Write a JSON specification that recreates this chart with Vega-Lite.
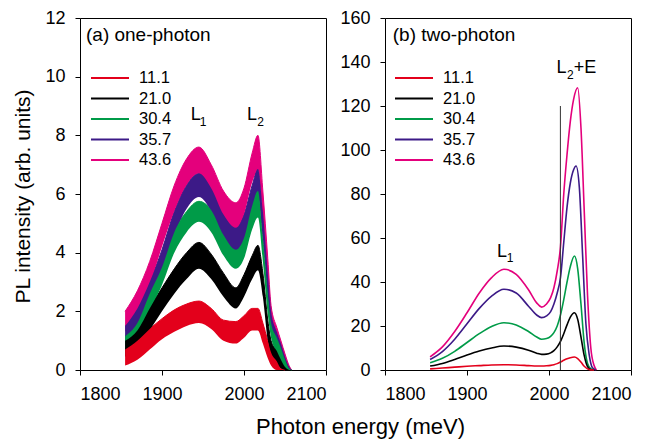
{
  "$schema": "https://vega.github.io/schema/vega-lite/v6.json",
  "background": "white",
  "padding": {"left": 11, "top": 8, "right": 5, "bottom": 5},
  "config": {
    "font": "Liberation Sans",
    "view": {"stroke": "#000", "strokeWidth": 1},
    "axis": {"grid": false, "domain": false, "tickColor": "#000", "tickSize": 5, "labelFontSize": 18, "labelColor": "#000", "titleFontWeight": "normal", "titleColor": "#000", "labelFont": "Liberation Sans", "titleFont": "Liberation Sans", "labelPadding": 10},
    "legend": {"labelFont": "Liberation Sans", "labelColor": "#000"},
    "text": {"font": "Liberation Sans", "color": "#000"}
  },
  "bounds": "flush",
  "spacing": 59,
  "resolve": {"scale": {"color": "independent"}, "legend": {"color": "independent"}},
  "datasets": {
    "left": [
      {"s":"43.6","E":1855,"lo":1.3,"hi":2.0},{"s":"43.6","E":1870,"lo":2.0,"hi":2.7},{"s":"43.6","E":1885,"lo":2.9,"hi":3.7},{"s":"43.6","E":1900,"lo":4.2,"hi":5.0},{"s":"43.6","E":1915,"lo":5.4,"hi":6.3},{"s":"43.6","E":1930,"lo":6.3,"hi":7.2},{"s":"43.6","E":1945,"lo":6.7,"hi":7.6},{"s":"43.6","E":1960,"lo":6.1,"hi":7.0},{"s":"43.6","E":1975,"lo":5.2,"hi":6.1},{"s":"43.6","E":1990,"lo":4.8,"hi":5.7},{"s":"43.6","E":2000,"lo":5.3,"hi":6.2},{"s":"43.6","E":2010,"lo":6.4,"hi":7.4},{"s":"43.6","E":2017,"lo":6.8,"hi":8.0},{"s":"43.6","E":2023,"lo":5.2,"hi":6.1},{"s":"43.6","E":2029,"lo":3.0,"hi":3.8},{"s":"43.6","E":2033,"lo":1.5,"hi":2.2},{"s":"43.6","E":2040,"lo":0.8,"hi":1.45},{"s":"43.6","E":2045,"lo":0.45,"hi":1.0},{"s":"43.6","E":2050,"lo":0.15,"hi":0.55},{"s":"43.6","E":2055,"lo":0,"hi":0.15},{"s":"43.6","E":2058,"lo":0,"hi":0},
      {"s":"35.7","E":1855,"lo":0.9,"hi":1.5},{"s":"35.7","E":1870,"lo":1.5,"hi":2.1},{"s":"35.7","E":1885,"lo":2.4,"hi":3.0},{"s":"35.7","E":1900,"lo":3.4,"hi":4.1},{"s":"35.7","E":1915,"lo":4.6,"hi":5.4},{"s":"35.7","E":1930,"lo":5.5,"hi":6.3},{"s":"35.7","E":1945,"lo":5.9,"hi":6.7},{"s":"35.7","E":1960,"lo":5.4,"hi":6.2},{"s":"35.7","E":1975,"lo":4.4,"hi":5.3},{"s":"35.7","E":1990,"lo":3.95,"hi":4.85},{"s":"35.7","E":2000,"lo":4.4,"hi":5.3},{"s":"35.7","E":2010,"lo":5.4,"hi":6.3},{"s":"35.7","E":2017,"lo":5.9,"hi":6.85},{"s":"35.7","E":2023,"lo":4.5,"hi":5.4},{"s":"35.7","E":2029,"lo":2.5,"hi":3.3},{"s":"35.7","E":2033,"lo":1.4,"hi":2.0},{"s":"35.7","E":2040,"lo":0.7,"hi":1.3},{"s":"35.7","E":2045,"lo":0.35,"hi":0.9},{"s":"35.7","E":2050,"lo":0.1,"hi":0.45},{"s":"35.7","E":2055,"lo":0,"hi":0.1},{"s":"35.7","E":2058,"lo":0,"hi":0},
      {"s":"30.4","E":1855,"lo":0.6,"hi":1.15},{"s":"30.4","E":1870,"lo":1.05,"hi":1.6},{"s":"30.4","E":1885,"lo":2.0,"hi":2.6},{"s":"30.4","E":1900,"lo":2.9,"hi":3.5},{"s":"30.4","E":1915,"lo":4.0,"hi":4.7},{"s":"30.4","E":1930,"lo":4.7,"hi":5.4},{"s":"30.4","E":1945,"lo":5.05,"hi":5.75},{"s":"30.4","E":1960,"lo":4.7,"hi":5.45},{"s":"30.4","E":1975,"lo":3.9,"hi":4.6},{"s":"30.4","E":1990,"lo":3.45,"hi":4.1},{"s":"30.4","E":2000,"lo":3.8,"hi":4.5},{"s":"30.4","E":2010,"lo":4.8,"hi":5.6},{"s":"30.4","E":2017,"lo":5.2,"hi":6.1},{"s":"30.4","E":2023,"lo":3.7,"hi":4.5},{"s":"30.4","E":2029,"lo":1.9,"hi":2.6},{"s":"30.4","E":2033,"lo":1.1,"hi":1.6},{"s":"30.4","E":2040,"lo":0.6,"hi":1.1},{"s":"30.4","E":2045,"lo":0.3,"hi":0.75},{"s":"30.4","E":2050,"lo":0.05,"hi":0.35},{"s":"30.4","E":2055,"lo":0,"hi":0.05},{"s":"30.4","E":2058,"lo":0,"hi":0},
      {"s":"21.0","E":1855,"lo":0.45,"hi":1.0},{"s":"21.0","E":1870,"lo":0.75,"hi":1.35},{"s":"21.0","E":1885,"lo":1.35,"hi":2.1},{"s":"21.0","E":1900,"lo":2.0,"hi":2.8},{"s":"21.0","E":1915,"lo":2.6,"hi":3.45},{"s":"21.0","E":1930,"lo":3.1,"hi":4.0},{"s":"21.0","E":1945,"lo":3.45,"hi":4.35},{"s":"21.0","E":1960,"lo":3.1,"hi":3.95},{"s":"21.0","E":1975,"lo":2.5,"hi":3.3},{"s":"21.0","E":1990,"lo":2.1,"hi":2.8},{"s":"21.0","E":2000,"lo":2.5,"hi":3.25},{"s":"21.0","E":2010,"lo":3.1,"hi":3.9},{"s":"21.0","E":2017,"lo":3.4,"hi":4.25},{"s":"21.0","E":2023,"lo":2.5,"hi":3.3},{"s":"21.0","E":2029,"lo":1.0,"hi":1.7},{"s":"21.0","E":2033,"lo":0.5,"hi":1.0},{"s":"21.0","E":2040,"lo":0.2,"hi":0.65},{"s":"21.0","E":2045,"lo":0.05,"hi":0.35},{"s":"21.0","E":2050,"lo":0,"hi":0.1},{"s":"21.0","E":2055,"lo":0,"hi":0},
      {"s":"11.1","E":1855,"lo":0.15,"hi":0.7},{"s":"11.1","E":1870,"lo":0.35,"hi":1.0},{"s":"11.1","E":1885,"lo":0.7,"hi":1.4},{"s":"11.1","E":1900,"lo":1.05,"hi":1.75},{"s":"11.1","E":1915,"lo":1.3,"hi":2.05},{"s":"11.1","E":1930,"lo":1.5,"hi":2.25},{"s":"11.1","E":1945,"lo":1.6,"hi":2.35},{"s":"11.1","E":1960,"lo":1.4,"hi":2.1},{"s":"11.1","E":1975,"lo":1.0,"hi":1.7},{"s":"11.1","E":1990,"lo":0.9,"hi":1.65},{"s":"11.1","E":2000,"lo":1.1,"hi":1.85},{"s":"11.1","E":2010,"lo":1.35,"hi":2.1},{"s":"11.1","E":2017,"lo":1.35,"hi":2.1},{"s":"11.1","E":2023,"lo":0.9,"hi":1.6},{"s":"11.1","E":2029,"lo":0.4,"hi":1.0},{"s":"11.1","E":2033,"lo":0.15,"hi":0.6},{"s":"11.1","E":2040,"lo":0,"hi":0.3},{"s":"11.1","E":2045,"lo":0,"hi":0.05},{"s":"11.1","E":2050,"lo":0,"hi":0}
    ],
    "right": [
      {"s":"43.6","E":1855,"v":6},{"s":"43.6","E":1870,"v":10.5},{"s":"43.6","E":1885,"v":17.5},{"s":"43.6","E":1900,"v":26},{"s":"43.6","E":1915,"v":35},{"s":"43.6","E":1930,"v":42},{"s":"43.6","E":1945,"v":45.8},{"s":"43.6","E":1960,"v":43.5},{"s":"43.6","E":1975,"v":36.5},{"s":"43.6","E":1985,"v":30.5},{"s":"43.6","E":1991,"v":28.6},{"s":"43.6","E":1997,"v":30},{"s":"43.6","E":2002,"v":32.9},{"s":"43.6","E":2006,"v":37.4},{"s":"43.6","E":2010,"v":45},{"s":"43.6","E":2014,"v":56},{"s":"43.6","E":2018,"v":80},{"s":"43.6","E":2022,"v":98},{"s":"43.6","E":2026,"v":113},{"s":"43.6","E":2030,"v":123},{"s":"43.6","E":2035,"v":128.3},{"s":"43.6","E":2039,"v":110},{"s":"43.6","E":2043,"v":72},{"s":"43.6","E":2047,"v":34},{"s":"43.6","E":2051,"v":10},{"s":"43.6","E":2055,"v":2},{"s":"43.6","E":2058,"v":0},
      {"s":"35.7","E":1855,"v":4.8},{"s":"35.7","E":1870,"v":8.4},{"s":"35.7","E":1885,"v":14},{"s":"35.7","E":1900,"v":21},{"s":"35.7","E":1915,"v":28},{"s":"35.7","E":1930,"v":33.6},{"s":"35.7","E":1945,"v":36.7},{"s":"35.7","E":1960,"v":35},{"s":"35.7","E":1975,"v":29},{"s":"35.7","E":1985,"v":25},{"s":"35.7","E":1991,"v":23.8},{"s":"35.7","E":1997,"v":24.6},{"s":"35.7","E":2002,"v":26.5},{"s":"35.7","E":2006,"v":30},{"s":"35.7","E":2010,"v":35},{"s":"35.7","E":2014,"v":42},{"s":"35.7","E":2018,"v":58},{"s":"35.7","E":2022,"v":74},{"s":"35.7","E":2026,"v":85},{"s":"35.7","E":2030,"v":91},{"s":"35.7","E":2033,"v":92.7},{"s":"35.7","E":2037,"v":83},{"s":"35.7","E":2041,"v":52},{"s":"35.7","E":2045,"v":21},{"s":"35.7","E":2049,"v":7},{"s":"35.7","E":2053,"v":1},{"s":"35.7","E":2057,"v":0},
      {"s":"30.4","E":1855,"v":3.3},{"s":"30.4","E":1870,"v":5.3},{"s":"30.4","E":1885,"v":8.5},{"s":"30.4","E":1900,"v":12.5},{"s":"30.4","E":1915,"v":16.5},{"s":"30.4","E":1930,"v":19.8},{"s":"30.4","E":1945,"v":21.5},{"s":"30.4","E":1960,"v":20.5},{"s":"30.4","E":1975,"v":17.5},{"s":"30.4","E":1985,"v":15},{"s":"30.4","E":1991,"v":14},{"s":"30.4","E":1997,"v":14.3},{"s":"30.4","E":2002,"v":15.3},{"s":"30.4","E":2006,"v":17},{"s":"30.4","E":2010,"v":20},{"s":"30.4","E":2014,"v":25},{"s":"30.4","E":2018,"v":32},{"s":"30.4","E":2022,"v":40},{"s":"30.4","E":2026,"v":47},{"s":"30.4","E":2031,"v":51.8},{"s":"30.4","E":2035,"v":46},{"s":"30.4","E":2039,"v":30},{"s":"30.4","E":2043,"v":12},{"s":"30.4","E":2047,"v":3},{"s":"30.4","E":2051,"v":0.5},{"s":"30.4","E":2055,"v":0},
      {"s":"21.0","E":1855,"v":1.8},{"s":"21.0","E":1870,"v":3},{"s":"21.0","E":1885,"v":4.8},{"s":"21.0","E":1900,"v":6.8},{"s":"21.0","E":1915,"v":8.6},{"s":"21.0","E":1930,"v":10},{"s":"21.0","E":1945,"v":10.9},{"s":"21.0","E":1960,"v":10.4},{"s":"21.0","E":1975,"v":9},{"s":"21.0","E":1985,"v":7.6},{"s":"21.0","E":1991,"v":7.1},{"s":"21.0","E":1997,"v":7.2},{"s":"21.0","E":2002,"v":7.8},{"s":"21.0","E":2006,"v":8.8},{"s":"21.0","E":2010,"v":10.5},{"s":"21.0","E":2014,"v":13},{"s":"21.0","E":2018,"v":16.5},{"s":"21.0","E":2022,"v":20.5},{"s":"21.0","E":2026,"v":24},{"s":"21.0","E":2031,"v":26},{"s":"21.0","E":2035,"v":23},{"s":"21.0","E":2039,"v":15},{"s":"21.0","E":2043,"v":6.5},{"s":"21.0","E":2047,"v":1.5},{"s":"21.0","E":2051,"v":0.2},{"s":"21.0","E":2055,"v":0},
      {"s":"11.1","E":1855,"v":0.5},{"s":"11.1","E":1870,"v":0.9},{"s":"11.1","E":1885,"v":1.3},{"s":"11.1","E":1900,"v":1.7},{"s":"11.1","E":1915,"v":2.0},{"s":"11.1","E":1930,"v":2.3},{"s":"11.1","E":1945,"v":2.4},{"s":"11.1","E":1960,"v":2.3},{"s":"11.1","E":1975,"v":2.0},{"s":"11.1","E":1985,"v":1.8},{"s":"11.1","E":1991,"v":1.8},{"s":"11.1","E":1997,"v":1.9},{"s":"11.1","E":2002,"v":2.1},{"s":"11.1","E":2006,"v":2.4},{"s":"11.1","E":2010,"v":2.9},{"s":"11.1","E":2014,"v":3.6},{"s":"11.1","E":2018,"v":4.4},{"s":"11.1","E":2022,"v":5.1},{"s":"11.1","E":2026,"v":5.6},{"s":"11.1","E":2031,"v":5.9},{"s":"11.1","E":2035,"v":5.2},{"s":"11.1","E":2039,"v":3.6},{"s":"11.1","E":2043,"v":1.7},{"s":"11.1","E":2047,"v":0.5},{"s":"11.1","E":2051,"v":0.05},{"s":"11.1","E":2055,"v":0}
    ],
    "annL": [
      {"t":"(a) one-photon","E":1807.3,"v":11.43,"k":"title"},
      {"t":"L","E":1941.1,"v":8.69,"k":"big"},
      {"t":"1","E":1950,"v":8.45,"k":"sub"},
      {"t":"L","E":2009.8,"v":8.69,"k":"big"},
      {"t":"2","E":2020.1,"v":8.45,"k":"sub"}
    ],
    "annR": [
      {"t":"(b) two-photon","E":1809.5,"v":152.3,"k":"title"},
      {"t":"L","E":1942.6,"v":53.6,"k":"big"},
      {"t":"1","E":1952.5,"v":51,"k":"sub"},
      {"t":"L","E":2015.2,"v":137.3,"k":"big"},
      {"t":"2","E":2025.9,"v":134,"k":"sub"},
      {"t":"+E","E":2044,"v":137.3,"k":"big"}
    ],
    "ruleR": [{"E":2013.9,"v0":0,"v1":120}]
  },
  "hconcat": [
    {
      "width": 246,
      "height": 352,
      "layer": [
        {
          "data": {"name": "left"},
          "mark": {"type": "line", "strokeWidth": 1, "interpolate": "monotone"},
          "encoding": {
            "x": {"field": "E", "type": "quantitative", "scale": {"domain": [1800, 2100], "nice": false},
                  "axis": {"values": [1800, 1900, 2000, 2100], "format": "d", "title": "Photon energy (meV)", "titleFontSize": 22, "titleX": 280, "titleY": 56, "titleBaseline": "middle", "titleAnchor": null}},
            "y": {"field": "hi", "type": "quantitative", "scale": {"domain": [0, 12], "nice": false},
                  "axis": {"values": [0, 2, 4, 6, 8, 10, 12], "title": "PL intensity (arb. units)", "titleFontSize": 21, "titleX": -57, "titleY": 178, "titleAngle": -90, "titleBaseline": "middle", "titleAlign": "center"}},
            "color": {"field": "s", "type": "nominal",
                      "scale": {"domain": ["11.1", "21.0", "30.4", "35.7", "43.6"], "range": ["#e3001b", "#000000", "#009b48", "#3c1a87", "#e4007c"]},
                      "legend": {"orient": "none", "legendX": 19.5, "legendY": 49.5, "title": null, "symbolType": "M-2,0H2", "symbolSize": 361, "symbolStrokeWidth": 1.8, "labelFontSize": 16.5, "labelOffset": 18.5, "rowPadding": 1.5, "padding": 0}}
          }
        },
        {
          "data": {"name": "left"},
          "mark": {"type": "area", "interpolate": "monotone", "opacity": 1},
          "encoding": {
            "x": {"field": "E", "type": "quantitative"},
            "y": {"field": "hi", "type": "quantitative"},
            "y2": {"field": "lo"},
            "color": {"field": "s", "type": "nominal", "legend": null}
          }
        },
        {
          "data": {"name": "annL"},
          "transform": [{"filter": "datum.k == 'title'"}],
          "mark": {"type": "text", "fontSize": 19, "align": "left", "baseline": "middle"},
          "encoding": {"x": {"field": "E", "type": "quantitative"}, "y": {"field": "v", "type": "quantitative"}, "text": {"field": "t"}}
        },
        {
          "data": {"name": "annL"},
          "transform": [{"filter": "datum.k == 'big'"}],
          "mark": {"type": "text", "fontSize": 18, "align": "center", "baseline": "middle"},
          "encoding": {"x": {"field": "E", "type": "quantitative"}, "y": {"field": "v", "type": "quantitative"}, "text": {"field": "t"}}
        },
        {
          "data": {"name": "annL"},
          "transform": [{"filter": "datum.k == 'sub'"}],
          "mark": {"type": "text", "fontSize": 12, "align": "center", "baseline": "middle"},
          "encoding": {"x": {"field": "E", "type": "quantitative"}, "y": {"field": "v", "type": "quantitative"}, "text": {"field": "t"}}
        }
      ]
    },
    {
      "width": 246,
      "height": 352,
      "layer": [
        {
          "data": {"name": "right"},
          "mark": {"type": "line", "strokeWidth": 1.6, "interpolate": "monotone"},
          "encoding": {
            "x": {"field": "E", "type": "quantitative", "scale": {"domain": [1800, 2100], "nice": false},
                  "axis": {"values": [1800, 1900, 2000, 2100], "format": "d", "title": null}},
            "y": {"field": "v", "type": "quantitative", "scale": {"domain": [0, 160], "nice": false},
                  "axis": {"values": [0, 20, 40, 60, 80, 100, 120, 140, 160], "title": null}},
            "color": {"field": "s", "type": "nominal",
                      "scale": {"domain": ["11.1", "21.0", "30.4", "35.7", "43.6"], "range": ["#e3001b", "#000000", "#009b48", "#3c1a87", "#e4007c"]},
                      "legend": {"orient": "none", "legendX": 18.5, "legendY": 49.5, "title": null, "symbolType": "M-2,0H2", "symbolSize": 361, "symbolStrokeWidth": 1.8, "labelFontSize": 16.5, "labelOffset": 18.5, "rowPadding": 1.5, "padding": 0}}
          }
        },
        {
          "data": {"name": "ruleR"},
          "mark": {"type": "rule", "color": "#333", "strokeWidth": 1},
          "encoding": {"x": {"field": "E", "type": "quantitative"}, "y": {"field": "v0", "type": "quantitative"}, "y2": {"field": "v1"}}
        },
        {
          "data": {"name": "annR"},
          "transform": [{"filter": "datum.k == 'title'"}],
          "mark": {"type": "text", "fontSize": 19, "align": "left", "baseline": "middle"},
          "encoding": {"x": {"field": "E", "type": "quantitative"}, "y": {"field": "v", "type": "quantitative"}, "text": {"field": "t"}}
        },
        {
          "data": {"name": "annR"},
          "transform": [{"filter": "datum.k == 'big'"}],
          "mark": {"type": "text", "fontSize": 18, "align": "center", "baseline": "middle"},
          "encoding": {"x": {"field": "E", "type": "quantitative"}, "y": {"field": "v", "type": "quantitative"}, "text": {"field": "t"}}
        },
        {
          "data": {"name": "annR"},
          "transform": [{"filter": "datum.k == 'sub'"}],
          "mark": {"type": "text", "fontSize": 12, "align": "center", "baseline": "middle"},
          "encoding": {"x": {"field": "E", "type": "quantitative"}, "y": {"field": "v", "type": "quantitative"}, "text": {"field": "t"}}
        }
      ]
    }
  ]
}
